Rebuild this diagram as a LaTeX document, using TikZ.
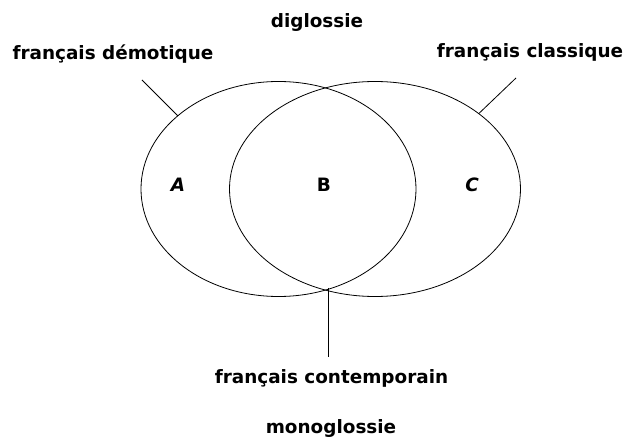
\documentclass[tikz,border=0pt]{standalone}
\usepackage{fontspec}
\setmainfont{DejaVu Sans}
\usetikzlibrary{shapes.geometric}
\begin{document}
\begin{tikzpicture}[x=1pt,y=-1pt,
  lbl/.style={font=\bfseries\fontsize{18.4}{21}\selectfont, inner sep=0pt, anchor=center},
  venn/.style={draw, ellipse, line width=0.8pt, inner sep=0pt, outer sep=0pt},
  conn/.style={line width=0.8pt}]
\useasboundingbox (0,0) rectangle (625,441);
\node[venn, minimum width=275pt, minimum height=215pt] (L) at (278.5,189) {};
\node[venn, minimum width=291pt, minimum height=215pt] (R) at (375,189) {};
\node[lbl] (dig) at (317,22) {diglossie};
\node[lbl] (dem) at (113,54) {français démotique};
\node[lbl] (cla) at (530,52) {français classique};
\node[lbl] (A) at (178,185) {\itshape A};
\node[lbl] (B) at (324,185) {B};
\node[lbl] (C) at (472,185) {\itshape C};
\node[lbl] (con) at (331.5,378) {français contemporain};
\node[lbl] (mono) at (331,428) {monoglossie};
\coordinate (demend) at (142,80);
\coordinate (claend) at (516,78);
\coordinate (bot) at (328,288);
\coordinate (botend) at (328,357);
\draw[conn] (demend) -- (L.144.5);
\draw[conn] (claend) -- (R.36.6);
\draw[conn] (bot) -- (botend);
\end{tikzpicture}
\end{document}
